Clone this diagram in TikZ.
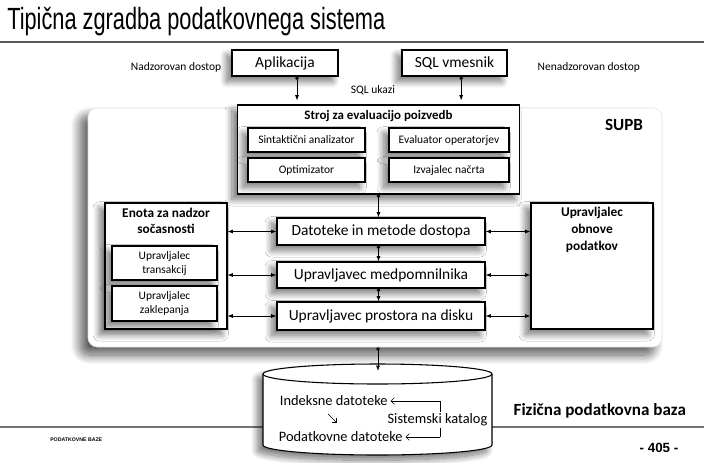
\documentclass[tikz,border=0pt]{standalone}
\usepackage{fontspec}
\setmainfont{Carlito}
\newfontfamily\arialfont{Liberation Sans}
\usetikzlibrary{arrows.meta,shadows.blur}

\tikzset{
  senca/.style={blur shadow={shadow xshift=-4pt, shadow yshift=-4pt, shadow blur radius=5pt, shadow blur steps=16, shadow opacity=55}},
  okvir/.style={draw, fill=white, line width=0.8pt, inner sep=0pt, align=center, senca},
  velik/.style={font=\fontsize{11.6}{13}\selectfont},
  majhen/.style={font=\fontsize{8.6}{10.5}\selectfont},
  baza/.style={anchor=west, inner sep=2pt, font=\fontsize{10.8}{12}\selectfont},
  tok/.style={{Circle[length=2.6pt]}-{Latex[length=4pt,width=3pt]}, line width=0.55pt},
  dvojna/.style={{Latex[length=4pt,width=3pt]}-{Latex[length=4pt,width=3pt]}, line width=0.55pt},
  puscica/.style={-{Straight Barb[length=2.5pt,width=5pt]}, line width=0.5pt},
}

\begin{document}
\begin{tikzpicture}[x=0.75pt, y=0.75pt]
    \useasboundingbox (0,0) rectangle (704,-462);
    %naslov
    \node[anchor=base west, inner sep=0pt] (naslov) at (7,-29) {\arialfont\fontsize{23}{26}\selectfont\scalebox{0.71}[1]{Tipična zgradba podatkovnega sistema}};
    \draw[line width=1.1pt, black!65] (0,-42) -- (704,-42);
    %noga
    \draw[line width=1pt, black!55] (0,-427) -- (704,-427);
    \node[anchor=west, inner sep=0pt, font=\arialfont\bfseries\fontsize{3.9}{4}\selectfont] (noga) at (50,-440) {PODATKOVNE BAZE};
    \node[inner sep=0pt, font=\arialfont\bfseries\fontsize{10}{11}\selectfont] (stran) at (659,-448) {- 405 -};

    %okvir SUPB
    \node[draw=black!12, fill=white, rounded corners=7pt, minimum width=430.5pt, minimum height=179.25pt,
          blur shadow={shadow xshift=-6pt, shadow yshift=-6pt, shadow blur radius=7pt, shadow blur steps=16, shadow opacity=65}] (supb-okvir) at (375,-227.5) {};
    \node[font=\bfseries\fontsize{12.8}{14}\selectfont] (supb) at (624,-125) {SUPB};

    %zgornji okvirji
    \node[okvir, velik, minimum width=79.5pt, minimum height=19.5pt] (apl) at (285,-63) {Aplikacija};
    \node[okvir, velik, minimum width=78.75pt, minimum height=19.5pt] (sql) at (454.5,-63) {SQL vmesnik};
    \node[majhen, anchor=east] (nadz) at (226,-67) {Nadzorovan dostop};
    \node[majhen, anchor=west] (nenadz) at (533,-67) {Nenadzorovan dostop};
    \node[majhen] (ukazi) at (373,-90) {SQL ukazi};

    %stroj za evaluacijo
    \node[okvir, minimum width=212pt, minimum height=66.75pt] (stroj) at (378.5,-149.5) {};
    \node[font=\bfseries\fontsize{9.7}{11}\selectfont] (stroj-t) at (378.5,-116) {Stroj za evaluacijo poizvedb};
    \node[okvir, majhen, minimum width=87.75pt, minimum height=18pt] (sint) at (306.5,-140) {Sintaktični analizator};
    \node[okvir, majhen, minimum width=90pt, minimum height=18pt] (eval) at (449,-140) {Evaluator operatorjev};
    \node[okvir, majhen, minimum width=87.75pt, minimum height=18pt] (opt) at (306.5,-170) {Optimizator};
    \node[okvir, majhen, minimum width=90pt, minimum height=18pt] (izv) at (449,-170) {Izvajalec načrta};

    %nadzor socasnosti
    \node[okvir, minimum width=91.5pt, minimum height=94.5pt] (enota) at (166,-266) {};
    \node[font=\bfseries\fontsize{10}{12.5}\selectfont, align=center] (enota-t) at (166,-221) {Enota za nadzor\\sočasnosti};
    \node[okvir, majhen, minimum width=78.75pt, minimum height=25.5pt] (trans) at (164.5,-263) {Upravljalec\\transakcij};
    \node[okvir, majhen, minimum width=78.75pt, minimum height=26.25pt] (zakl) at (164.5,-303.5) {Upravljalec\\zaklepanja};

    %obnova podatkov
    \node[okvir, minimum width=91.5pt, minimum height=94.5pt] (obn) at (592,-266) {};
    \node[font=\bfseries\fontsize{10}{12.75}\selectfont, align=center] (obn-t) at (592,-230) {Upravljalec\\obnove\\podatkov};

    %srednji okvirji
    \node[okvir, velik, minimum width=156pt, minimum height=20.25pt] (dat) at (381,-231.5) {Datoteke in metode dostopa};
    \node[okvir, velik, minimum width=156pt, minimum height=19.5pt] (med) at (381,-275) {Upravljavec medpomnilnika};
    \node[okvir, velik, minimum width=156pt, minimum height=21pt] (pro) at (381,-316) {Upravljavec prostora na disku};

    %puscice navzdol
    \draw[tok] ([xshift=9pt]apl.south) -- ([xshift=9pt,yshift=3pt]apl.south |- stroj.north);
    \draw[tok] ([xshift=5pt]sql.south) -- ([xshift=5pt,yshift=3pt]sql.south |- stroj.north);
    \draw[tok] (stroj.south) -- (stroj.south |- dat.north);
    \draw[tok] (stroj.south |- dat.south) -- (stroj.south |- med.north);
    \draw[tok] (stroj.south |- med.south) -- (stroj.south |- pro.north);

    %puscice levo in desno
    \draw[dvojna] (enota.east |- dat.west) -- (dat.west);
    \draw[dvojna] (enota.east |- med.west) -- (med.west);
    \draw[dvojna] (enota.east |- pro.west) -- (pro.west);
    \draw[dvojna] (dat.east) -- (obn.west |- dat.east);
    \draw[dvojna] (med.east) -- (obn.west |- med.east);
    \draw[dvojna] (pro.east) -- (obn.west |- pro.east);

    %baza
    \draw[fill=white, line width=0.8pt, senca] (263,-374) -- (263,-445)
        arc[start angle=180, end angle=360, x radius=85.875pt, y radius=7.5pt] -- (492,-374)
        arc[start angle=0, end angle=180, x radius=85.875pt, y radius=7.5pt] -- cycle;
    \draw[line width=0.8pt] (263,-374) arc[start angle=180, end angle=360, x radius=85.875pt, y radius=7.5pt];
    \coordinate (disk-v) at (378,-371);
    \draw[tok] (supb-okvir.south -| disk-v) -- (disk-v);

    %datoteke v bazi
    \node[baza] (idx) at (277,-401) {Indeksne datoteke};
    \node[baza] (pod) at (276,-437) {Podatkovne datoteke};
    \coordinate (kat-z) at (440,-401);
    \coordinate (kat-s) at (440,-437);
    \coordinate (d1) at (328,-414);
    \coordinate (d2) at (337,-423);
    \draw[line width=0.5pt] (kat-z) -- (kat-s);
    \node[baza, fill=white, inner sep=1pt] (kat) at (386,-420) {Sistemski katalog};
    \draw[puscica] (kat-z) -- (idx.east);
    \draw[puscica] (kat-s) -- (pod.east);
    \draw[puscica] (d1) -- (d2);

    \node[anchor=west, font=\bfseries\fontsize{12.8}{14}\selectfont] (fiz) at (509,-411) {Fizična podatkovna baza};
\end{tikzpicture}
\end{document}
